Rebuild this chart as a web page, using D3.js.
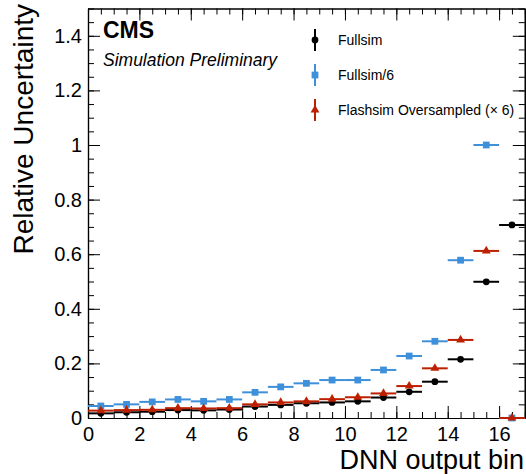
<!DOCTYPE html>
<html>
<head>
<meta charset="utf-8">
<script src="https://cdn.jsdelivr.net/npm/d3@7"></script>
<style>
  html, body { margin: 0; padding: 0; background: #fff; }
  svg { display: block; font-family: "Liberation Sans", Arial, Helvetica, sans-serif; }
</style>
</head>
<body>
<div id="chart"></div>
<script>
// ---------------------------------------------------------
//  Relative uncertainty per DNN output bin (CMS style)
// ---------------------------------------------------------
const binLow = [0, 1, 2, 3, 4, 5, 6, 7, 8, 9, 10, 11, 12, 13, 14, 15, 16];

const fullsim      = [0.017, 0.021, 0.023, 0.029, 0.028, 0.031, 0.042, 0.048, 0.054,
                      0.057, 0.061, 0.075, 0.096, 0.133, 0.215, 0.499, 0.707];
const fullsimDiv6  = [0.044, 0.050, 0.059, 0.068, 0.061, 0.068, 0.094, 0.114, 0.127,
                      0.139, 0.139, 0.176, 0.227, 0.281, 0.578, 1.000, 0.000];
const flashsimOver = [0.027, 0.029, 0.030, 0.036, 0.035, 0.036, 0.050, 0.057, 0.061,
                      0.069, 0.076, 0.090, 0.117, 0.182, 0.286, 0.612, 0.000];

const xTickLabels = [0, 2, 4, 6, 8, 10, 12, 14, 16];
const yTickLabels = [0, 0.2, 0.4, 0.6, 0.8, 1, 1.2, 1.4];

const seriesNames = ['Fullsim', 'Fullsim/6', 'Flashsim Oversampled (\u00d7 6)'];

const width = 526, height = 474;
const margin = { top: 8.5, right: 1.2, bottom: 56, left: 88 };

const svg = d3.select('#chart').append('svg')
  .attr('width', width)
  .attr('height', height)
  .attr('viewBox', `0 0 ${width} ${height}`);

const x = d3.scaleLinear().domain([0, 17]).range([margin.left, width - margin.right]);
const y = d3.scaleLinear().domain([0, 1.5]).range([height - margin.bottom, margin.top]);

const xMinor = d3.range(0, 17.01, 0.5);
const yMinor = d3.range(0, 1.501, 0.05);
const fmtY = d => String(+d.toFixed(1));

// axes: ROOT style, ticks inward on all four sides
function styleAxis(g) {
  g.selectAll('path.domain').attr('stroke', '#000').attr('stroke-width', 1.2);
  g.selectAll('.tick line').attr('stroke', '#000').attr('stroke-width', 1);
  g.selectAll('text').attr('fill', '#000').attr('font-size', 20)
    .attr('font-family', '"Liberation Sans", Arial, Helvetica, sans-serif');
}

const yBase = y(0), yTop = y(1.5), xLeft = x(0), xRight = x(17);

svg.append('g').attr('transform', `translate(0,${yBase})`)
  .call(d3.axisBottom(x).tickValues(xMinor).tickSizeInner(-6).tickSizeOuter(0).tickFormat(''))
  .call(styleAxis);
svg.append('g').attr('transform', `translate(0,${yBase})`)
  .call(d3.axisBottom(x).tickValues(xTickLabels).tickSizeInner(-12).tickSizeOuter(0).tickPadding(9))
  .call(styleAxis);

svg.append('g').attr('transform', `translate(0,${yTop})`)
  .call(d3.axisTop(x).tickValues(xMinor).tickSizeInner(-6).tickSizeOuter(0).tickFormat(''))
  .call(styleAxis);
svg.append('g').attr('transform', `translate(0,${yTop})`)
  .call(d3.axisTop(x).tickValues(xTickLabels).tickSizeInner(-12).tickSizeOuter(0).tickFormat(''))
  .call(styleAxis);

svg.append('g').attr('transform', `translate(${xLeft},0)`)
  .call(d3.axisLeft(y).tickValues(yMinor).tickSizeInner(-6).tickSizeOuter(0).tickFormat(''))
  .call(styleAxis);
svg.append('g').attr('transform', `translate(${xLeft},0)`)
  .call(d3.axisLeft(y).tickValues(yTickLabels).tickSizeInner(-12).tickSizeOuter(0).tickPadding(6).tickFormat(fmtY))
  .call(styleAxis);

svg.append('g').attr('transform', `translate(${xRight},0)`)
  .call(d3.axisRight(y).tickValues(yMinor).tickSizeInner(-6).tickSizeOuter(0).tickFormat(''))
  .call(styleAxis);
svg.append('g').attr('transform', `translate(${xRight},0)`)
  .call(d3.axisRight(y).tickValues(yTickLabels).tickSizeInner(-12).tickSizeOuter(0).tickFormat(''))
  .call(styleAxis);

// data series
const series = [
  { name: seriesNames[0], values: fullsim,      color: '#000000', shape: d3.symbolCircle,   size: 36 },
  { name: seriesNames[1], values: fullsimDiv6,  color: '#3f90da', shape: d3.symbolSquare,   size: 46 },
  { name: seriesNames[2], values: flashsimOver, color: '#bd1f01', shape: d3.symbolTriangle, size: 34 }
];

const plot = svg.append('g').attr('class', 'points');
series.forEach(s => {
  const g = plot.append('g');
  const rows = binLow.map((lo, i) => ({ lo, hi: lo + 1, c: lo + 0.5, v: s.values[i] }));
  g.selectAll('line')
    .data(rows)
    .join('line')
    .attr('x1', d => x(d.lo))
    .attr('x2', d => x(d.hi))
    .attr('y1', d => y(d.v))
    .attr('y2', d => y(d.v))
    .attr('stroke', s.color)
    .attr('stroke-width', 2);
  g.selectAll('path')
    .data(rows)
    .join('path')
    .attr('transform', d => `translate(${x(d.c)},${y(d.v)})`)
    .attr('d', d3.symbol(s.shape, s.size))
    .attr('fill', s.color);
});

// CMS label
svg.append('text')
  .attr('x', 103).attr('y', 38)
  .attr('font-size', 23).attr('font-weight', 700)
  .attr('fill', '#000')
  .text('CMS');
svg.append('text')
  .attr('x', 103).attr('y', 66)
  .attr('font-size', 17.5).attr('font-style', 'italic')
  .attr('fill', '#000')
  .text('Simulation Preliminary');

// legend
const legend = svg.append('g').attr('class', 'legend');
const legY = [40, 75, 110];
series.forEach((s, i) => {
  const g = legend.append('g').attr('transform', `translate(315,${legY[i]})`);
  g.append('line')
    .attr('x1', 0).attr('x2', 0).attr('y1', -11).attr('y2', 11)
    .attr('stroke', s.color).attr('stroke-width', 2);
  g.append('path')
    .attr('d', d3.symbol(s.shape, s.size))
    .attr('fill', s.color);
  g.append('text')
    .attr('x', 23).attr('y', 5)
    .attr('font-size', 14)
    .attr('fill', '#000')
    .text(s.name);
});

// axis titles
svg.append('text')
  .attr('x', width - 2).attr('y', 469)
  .attr('text-anchor', 'end')
  .attr('font-size', 27)
  .attr('fill', '#000')
  .text('DNN output bin');
svg.append('text')
  .attr('transform', 'translate(33,4) rotate(-90)')
  .attr('text-anchor', 'end')
  .attr('font-size', 28)
  .attr('fill', '#000')
  .text('Relative Uncertainty');
</script>
</body>
</html>
